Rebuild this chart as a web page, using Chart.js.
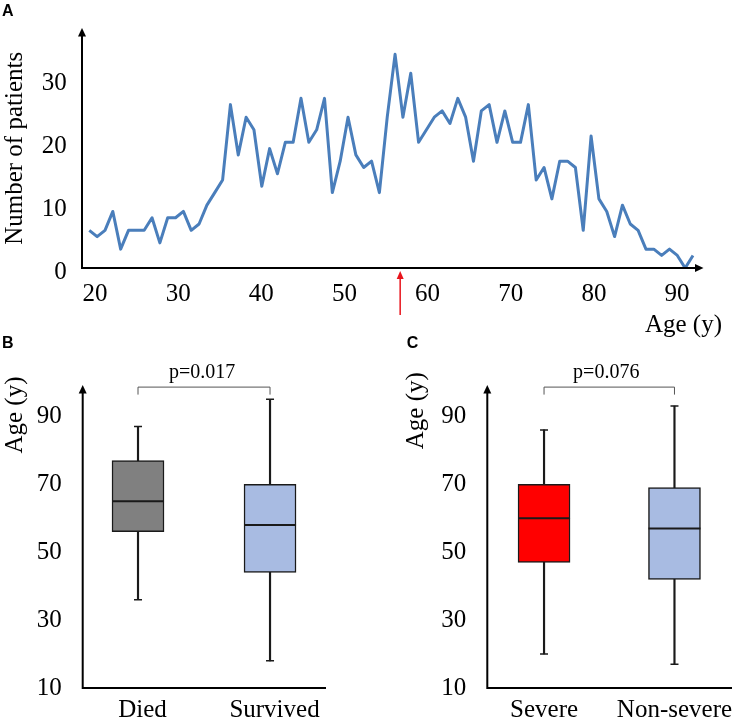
<!DOCTYPE html>
<html>
<head>
<meta charset="utf-8">
<script src="https://cdn.jsdelivr.net/npm/chart.js@4.4.0/dist/chart.umd.min.js"></script>
<style>
  body { margin: 0; background: #fff; }
  #wrap { position: relative; width: 734px; height: 722px; }
  canvas { position: absolute; }
</style>
</head>
<body>
<div id="wrap">
  <canvas id="chartA" width="734" height="345" style="left:0;top:0"></canvas>
  <canvas id="chartB" width="370" height="390" style="left:0;top:332px"></canvas>
  <canvas id="chartC" width="364" height="390" style="left:370px;top:332px"></canvas>
</div>
<script>
// Panel A: patients per year of age
const ages = [15, 16, 17, 18, 19, 20, 21, 22, 23, 24, 25, 26, 27, 28, 29, 30, 31, 32, 33, 34,
  35, 36, 37, 38, 39, 40, 41, 42, 43, 44, 45, 46, 47, 48, 49, 50, 51, 52, 53, 54,
  55, 56, 57, 58, 59, 60, 61, 62, 63, 64, 65, 66, 67, 68, 69, 70, 71, 72, 73, 74,
  75, 76, 77, 78, 79, 80, 81, 82, 83, 84, 85, 86, 87, 88, 89, 90, 91, 92];
const patients = [6, 5, 6, 9, 3, 6, 6, 6, 8, 4, 8, 8, 9, 6, 7, 10, 12, 14, 26, 18,
  24, 22, 13, 19, 15, 20, 20, 27, 20, 22, 27, 12, 17, 24, 18, 16, 17, 12, 24, 34,
  24, 31, 20, 22, 24, 25, 23, 27, 24, 17, 25, 26, 20, 25, 20, 20, 26, 14, 16, 11,
  17, 17, 16, 6, 21, 11, 9, 5, 10, 7, 6, 3, 3, 2, 3, 2, 0, 2];
const ageTicks = [20, 30, 40, 50, 60, 70, 80, 90];
const countTicks = [0, 10, 20, 30];
const medianAge = 56.7;

// Panels B and C: age box plots
const groupsB = ['Died', 'Survived'];
const minB = [36, 18];
const q1B = [56, 44];
const medB = [65, 58];
const q3B = [77, 70];
const maxB = [87, 95];

const groupsC = ['Severe', 'Non-severe'];
const minC = [20, 17];
const q1C = [47, 42];
const medC = [60, 57];
const q3C = [70, 69];
const maxC = [86, 93];

const boxTicks = [10, 30, 50, 70, 90];

Chart.defaults.font.family = '"Liberation Serif", "Times New Roman", serif';
Chart.defaults.color = '#000';

const serif = '"Liberation Serif", "Times New Roman", serif';
const sans = '"Liberation Sans", Arial, sans-serif';

function setTicks(values) { return s => { s.ticks = values.map(v => ({ value: v })); }; }
function noPad(s) { s.paddingTop = 0; s.paddingBottom = 0; s.paddingLeft = 0; s.paddingRight = 0; }
function fixWidth(w) { return s => { s.width = w; noPad(s); }; }
function fixHeight(h) { return s => { s.height = h; noPad(s); }; }

function tri(ctx, x1, y1, x2, y2, x3, y3) {
  ctx.beginPath();
  ctx.moveTo(x1, y1); ctx.lineTo(x2, y2); ctx.lineTo(x3, y3);
  ctx.closePath();
  ctx.fill();
}

const panelA = {
  id: 'panelA',
  afterDraw(chart) {
    const { ctx, chartArea: a, scales } = chart;
    const x0 = a.left - 7.3;
    const y0 = scales.y.getPixelForValue(0);
    ctx.save();
    ctx.strokeStyle = '#000';
    ctx.fillStyle = '#000';
    ctx.lineWidth = 2;
    ctx.beginPath();
    ctx.moveTo(x0, a.top + 6);
    ctx.lineTo(x0, y0);
    ctx.lineTo(a.right + 3, y0);
    ctx.stroke();
    tri(ctx, x0, a.top - 0.5, x0 - 4, a.top + 8, x0 + 4, a.top + 8);
    tri(ctx, a.right + 10.5, y0, a.right + 2, y0 - 4, a.right + 2, y0 + 4);

    // median marker
    const mx = scales.age.getPixelForValue(medianAge);
    ctx.strokeStyle = '#e8141c';
    ctx.fillStyle = '#e8141c';
    ctx.lineWidth = 1.5;
    ctx.beginPath();
    ctx.moveTo(mx, y0 + 9);
    ctx.lineTo(mx, y0 + 47);
    ctx.stroke();
    tri(ctx, mx, y0 + 3, mx - 3.5, y0 + 11, mx + 3.5, y0 + 11);

    ctx.fillStyle = '#000';
    ctx.font = 'bold 16px ' + sans;
    ctx.textAlign = 'left';
    ctx.textBaseline = 'alphabetic';
    ctx.fillText('A', 2, 15.5);

    ctx.font = '25px ' + serif;
    ctx.textAlign = 'right';
    ctx.textBaseline = 'middle';
    ctx.fillText('Age (y)', 722, 325);
    ctx.restore();
  }
};

new Chart(document.getElementById('chartA'), {
  type: 'line',
  data: {
    labels: ages,
    datasets: [{
      data: patients,
      borderColor: '#4a7ebb',
      borderWidth: 3,
      borderJoinStyle: 'round',
      pointRadius: 0,
      tension: 0,
      xAxisID: 'x',
      yAxisID: 'y'
    }]
  },
  options: {
    responsive: false,
    animation: false,
    layout: { autoPadding: false, padding: { left: 0, top: 28.6, right: 41, bottom: 37 } },
    plugins: { legend: { display: false }, tooltip: { enabled: false } },
    scales: {
      x: { type: 'category', display: false },
      age: {
        type: 'linear',
        position: 'bottom',
        min: 19.31,
        max: 91.92,
        offset: false,
        grid: { display: false, drawTicks: false },
        border: { display: false },
        afterBuildTicks: setTicks(ageTicks),
        afterFit: fixHeight(40),
        ticks: { font: { size: 25 }, padding: 11, maxRotation: 0 }
      },
      y: {
        min: 0,
        max: 38.1,
        grid: { display: false, drawTicks: false },
        border: { display: false },
        afterBuildTicks: setTicks(countTicks),
        afterFit: fixWidth(89.3),
        ticks: { font: { size: 25 }, padding: 22.6, labelOffset: 4 },
        title: { display: true, text: 'Number of patients', font: { size: 25 }, padding: 0 }
      }
    }
  },
  plugins: [panelA]
});

const boxDecor = {
  id: 'boxDecor',
  afterDraw(chart, args, o) {
    const { ctx, chartArea: a, scales: { x, y } } = chart;
    ctx.save();
    ctx.strokeStyle = '#000';
    ctx.fillStyle = '#000';
    ctx.lineWidth = 2;
    ctx.beginPath();
    ctx.moveTo(a.left, a.top + 6);
    ctx.lineTo(a.left, a.bottom);
    ctx.lineTo(a.right, a.bottom);
    ctx.stroke();
    tri(ctx, a.left, a.top - 0.5, a.left - 4, a.top + 8, a.left + 4, a.top + 8);

    // significance bracket
    const bx0 = x.getPixelForValue(0);
    const bx1 = x.getPixelForValue(1);
    const by = y.getPixelForValue(o.bracketAt);
    ctx.strokeStyle = '#555';
    ctx.lineWidth = 1;
    ctx.beginPath();
    ctx.moveTo(bx0, by + 7.5);
    ctx.lineTo(bx0, by);
    ctx.lineTo(bx1, by);
    ctx.lineTo(bx1, by + 7.5);
    ctx.stroke();
    ctx.font = '20px ' + serif;
    ctx.textAlign = 'center';
    ctx.textBaseline = 'middle';
    ctx.fillText(o.pText, (bx0 + bx1) / 2 + o.pShift, by - 14.5);

    ctx.font = '25px ' + serif;
    ctx.save();
    ctx.translate(o.titleX, o.titleY);
    ctx.rotate(-Math.PI / 2);
    ctx.fillText('Age (y)', 0, 0);
    ctx.restore();

    ctx.font = 'bold 16px ' + sans;
    ctx.textAlign = 'left';
    ctx.textBaseline = 'alphabetic';
    ctx.fillText(o.letter, o.letterX, 16.3);
    ctx.restore();
  }
};

function boxChart(id, groups, mins, q1s, meds, q3s, maxs, fills, o) {
  const pts = arr => arr.map((v, i) => ({ x: i, y: v }));
  return new Chart(document.getElementById(id), {
    type: 'bar',
    data: {
      datasets: [
        {
          type: 'line', data: pts(meds), showLine: false,
          pointStyle: 'line', pointRadius: 26, pointBorderWidth: 2,
          pointBorderColor: '#1a1a1a', order: 0
        },
        {
          type: 'line', data: pts(mins).concat(pts(maxs)), showLine: false,
          pointStyle: 'line', pointRadius: 4, pointBorderWidth: 1.5,
          pointBorderColor: '#1a1a1a', order: 0
        },
        {
          data: groups.map((g, i) => ({ x: i, y: [q1s[i], q3s[i]] })),
          backgroundColor: fills, borderColor: '#1a1a1a', borderWidth: 1.5,
          borderSkipped: false, barThickness: 52, grouped: false, order: 1
        },
        {
          data: groups.map((g, i) => ({ x: i, y: [mins[i], maxs[i]] })),
          backgroundColor: '#1a1a1a', borderWidth: 0,
          barThickness: 1.5, grouped: false, order: 2
        }
      ]
    },
    options: {
      responsive: false,
      animation: false,
      layout: { autoPadding: false, padding: { left: 0, top: 53.4, right: o.padRight, bottom: 4 } },
      plugins: { legend: { display: false }, tooltip: { enabled: false }, boxDecor: o },
      scales: {
        x: {
          type: 'linear',
          min: o.xMin,
          max: o.xMax,
          offset: false,
          grid: { display: false, drawTicks: false },
          border: { display: false },
          afterBuildTicks: setTicks(groups.map((g, i) => i)),
          afterFit: fixHeight(30),
          ticks: {
            font: { size: 25 }, padding: 7.5, maxRotation: 0, minRotation: 0,
            labelOffset: o.labelShift, callback: v => groups[v]
          }
        },
        y: {
          min: 10,
          max: 99.1,
          grid: { display: false, drawTicks: false },
          border: { display: false },
          afterBuildTicks: setTicks(boxTicks),
          afterFit: fixWidth(o.axisLeft),
          ticks: { font: { size: 25 }, padding: 21 }
        }
      }
    },
    plugins: [boxDecor]
  });
}

boxChart('chartB', groupsB, minB, q1B, medB, q3B, maxB, ['#808080', '#a8bbe2'], {
  xMin: -0.419, xMax: 1.424, axisLeft: 82.7, padRight: 44, labelShift: 4.5,
  bracketAt: 98.6, pText: 'p=0.017', pShift: -2,
  titleX: 15, titleY: 83, letter: 'B', letterX: 2
});

boxChart('chartC', groupsC, minC, q1C, medC, q3C, maxC, ['#ff0000', '#a8bbe2'], {
  xMin: -0.435, xMax: 1.441, axisLeft: 117.3, padRight: 2, labelShift: 0,
  bracketAt: 98.6, pText: 'p=0.076', pShift: -3,
  titleX: 46.7, titleY: 78.7, letter: 'C', letterX: 36.7
});
</script>
</body>
</html>
